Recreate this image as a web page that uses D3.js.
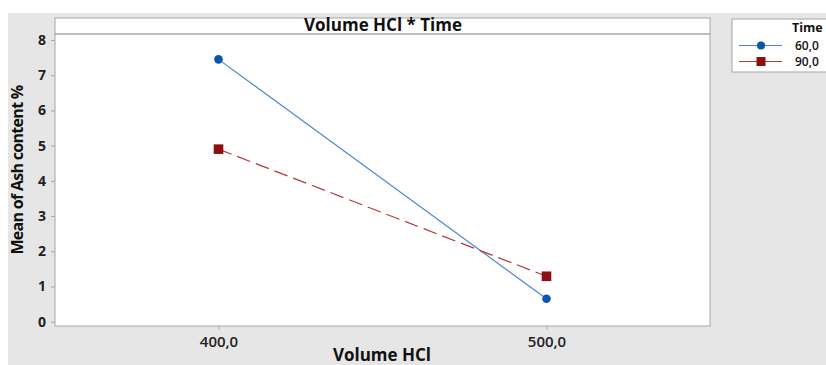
<!DOCTYPE html>
<html><head><meta charset="utf-8">
<script src="https://cdn.jsdelivr.net/npm/d3@7"></script>
<style>body{margin:0;background:#fff}svg{display:block}</style>
</head><body>
<svg id="c" width="826" height="365"></svg>
<script>
const categories = ["400,0", "500,0"];
const seriesNames = ["60,0", "90,0"];
const series60 = [7.45, 0.65];
const series90 = [4.9, 1.29];
const yTicks = [0, 1, 2, 3, 4, 5, 6, 7, 8];

const svg = d3.select("#c");
const W = 826, H = 365;
const font = "'Open Sans', 'DejaVu Sans', sans-serif";

svg.append("rect").attr("x", 8).attr("y", 13).attr("width", W - 8).attr("height", H - 13).attr("fill", "#e6e6e6");

const pl = 55, pt = 18, pr = 710, pb = 326, stripB = 34;
svg.append("rect").attr("x", pl).attr("y", pt).attr("width", pr - pl).attr("height", pb - pt)
  .attr("fill", "#fff").attr("stroke", "#a6a6a6").attr("stroke-width", 1);
svg.append("line").attr("x1", pl).attr("x2", pr).attr("y1", stripB).attr("y2", stripB)
  .attr("stroke", "#7f7f7f").attr("stroke-width", 1.2);
svg.append("text").attr("x", 383).attr("y", 30.5).attr("text-anchor", "middle")
  .attr("font-family", font).attr("font-weight", 700).attr("font-size", 17).attr("fill", "#111")
  .text("Volume HCl * Time");

const x = d3.scalePoint().domain(categories).range([218.5, 546.5]);
const y = d3.scaleLinear().domain([0, 8]).range([321.7, 40]);

const yAxis = d3.axisLeft(y).tickValues(yTicks).tickSize(4).tickPadding(5).tickFormat(d3.format("d"));
const gy = svg.append("g").attr("transform", `translate(${pl},0)`).call(yAxis);
gy.select(".domain").remove();
gy.selectAll(".tick line").attr("stroke", "#a6a6a6");
gy.selectAll(".tick text").attr("font-family", font).attr("font-weight", 700).attr("font-size", 14).attr("fill", "#222");

const xAxis = d3.axisBottom(x).tickSize(4).tickPadding(6);
const gx = svg.append("g").attr("transform", `translate(0,${pb})`).call(xAxis);
gx.select(".domain").remove();
gx.selectAll(".tick line").attr("stroke", "#a6a6a6");
gx.selectAll(".tick text").attr("font-family", font).attr("font-weight", 600).attr("font-size", 15).attr("fill", "#222");

svg.append("text").attr("x", 382).attr("y", 361).attr("text-anchor", "middle")
  .attr("font-family", font).attr("font-weight", 700).attr("font-size", 17).attr("fill", "#111")
  .text("Volume HCl");
svg.append("text").attr("transform", "translate(23,170) rotate(-90)").attr("text-anchor", "middle")
  .attr("font-family", font).attr("font-weight", 700).attr("font-size", 16).attr("letter-spacing", -0.7).attr("fill", "#111")
  .text("Mean of Ash content %");

const line = d3.line().x((d, i) => x(categories[i])).y(d => y(d));
svg.append("path").datum(series60).attr("d", line).attr("fill", "none").attr("stroke", "#4a86d0").attr("stroke-width", 1.2);
svg.append("path").datum(series90).attr("d", line).attr("fill", "none").attr("stroke", "#b43a3a").attr("stroke-width", 1.2).attr("stroke-dasharray", "14,6");
svg.selectAll(".m60").data(series60).enter().append("circle")
  .attr("cx", (d, i) => x(categories[i])).attr("cy", d => y(d)).attr("r", 4.3).attr("fill", "#0a55b0");
svg.selectAll(".m90").data(series90).enter().append("rect")
  .attr("x", (d, i) => x(categories[i]) - 4.8).attr("y", d => y(d) - 4.8).attr("width", 9.6).attr("height", 9.6).attr("fill", "#8c1010");

// legend
svg.append("rect").attr("x", 732).attr("y", 19).attr("width", 110).attr("height", 53).attr("fill", "#fff").attr("stroke", "#a6a6a6");
svg.append("text").attr("x", 792).attr("y", 32).attr("font-family", font).attr("font-weight", 700).attr("font-size", 12.5).attr("fill", "#111").text("Time");
const ly = [45.5, 61.5];
seriesNames.forEach((n, i) => {
  svg.append("line").attr("x1", 739).attr("x2", 782).attr("y1", ly[i]).attr("y2", ly[i])
    .attr("stroke", i === 0 ? "#4a86d0" : "#b43a3a").attr("stroke-width", 1.2);
  if (i === 0) svg.append("circle").attr("cx", 761).attr("cy", ly[i]).attr("r", 4).attr("fill", "#0a55b0");
  else svg.append("rect").attr("x", 756.5).attr("y", ly[i] - 4.5).attr("width", 9).attr("height", 9).attr("fill", "#8c1010");
  svg.append("text").attr("x", 795).attr("y", ly[i] + 4.5).attr("font-family", font).attr("font-weight", 600).attr("font-size", 12).attr("fill", "#111").text(n);
});
</script>
</body></html>
